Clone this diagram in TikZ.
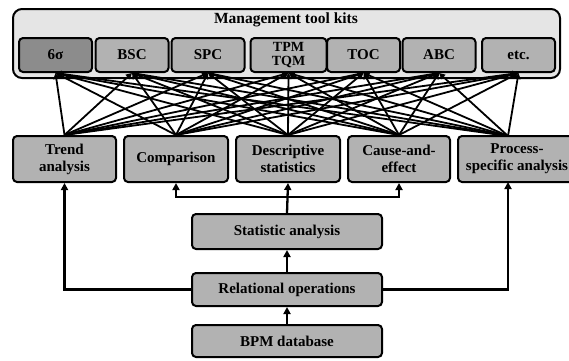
\documentclass[tikz,border=0pt]{standalone}
\usepackage{fontspec}
\setmainfont{Liberation Serif}
\usetikzlibrary{arrows.meta,calc}

\tikzset{
  box/.style={draw=black, line width=2pt, rounded corners=4pt, fill=boxgray,
    inner sep=0pt, align=center, font=\fontsize{15}{17}\selectfont\bfseries},
  toolbox/.style={box, minimum width=73pt, minimum height=34pt},
  anabox/.style={box, minimum height=46pt},
  basebox/.style={box, minimum width=190pt},
  conn/.style={line width=2.3pt, -{Triangle[length=7pt,width=7pt]}},
  mesh/.style={line width=1.8pt, -{Triangle[length=6pt,width=6pt]}}
}
\definecolor{boxgray}{gray}{0.70}
\definecolor{darkgray}{gray}{0.55}
\definecolor{panelgray}{gray}{0.90}

\begin{document}
\begin{tikzpicture}[x=1pt,y=-1pt]
\useasboundingbox (0,0) rectangle (569,360);

% tool kit panel
\draw[line width=2pt, rounded corners=9pt, fill=panelgray] (13,9) rectangle (560,78);
\node[font=\fontsize{15.5}{16}\selectfont\bfseries] (title) at (286,20) {Management tool kits};

% tools
\node[toolbox, fill=darkgray] (t1) at (55.5,55) {6σ};
\node[toolbox] (t2) at (132,55) {BSC};
\node[toolbox] (t3) at (208,55) {SPC};
\node[toolbox, minimum width=76pt, font=\fontsize{14}{14}\selectfont\bfseries] (t4) at (288.5,55) {TPM\\TQM};
\node[toolbox] (t5) at (363.5,55) {TOC};
\node[toolbox] (t6) at (439,55) {ABC};
\node[toolbox] (t7) at (518.5,55) {etc.};

% analyses
\node[anabox, minimum width=103pt] (a1) at (64.5,159) {Trend\\analysis};
\node[anabox, minimum width=104pt] (a2) at (176,159) {Comparison};
\node[anabox, minimum width=104pt] (a3) at (288,159) {Descriptive\\statistics};
\node[anabox, minimum width=102pt] (a4) at (399,159) {Cause-and-\\effect};
\node[anabox, minimum width=118pt] (a5) at (517,159) {Process-\\specific analysis};
\coordinate (a5top) at (508,136);
\coordinate (a5bot) at (508,182);

% base chain
\node[basebox, minimum height=35pt] (stat) at (287,231.5) {Statistic analysis};
\node[basebox, minimum height=33pt] (rel) at (287,289.5) {Relational operations};
\node[basebox, minimum height=32pt] (db) at (287,341) {BPM database};
\coordinate (branch) at (287,197);

% every analysis feeds every tool
\foreach \t in {t1,t2,t3,t4,t5,t6,t7}{
  \foreach \a in {a1,a2,a3,a4}{
    \draw[mesh] (\a.north) -- (\t.south);
  }
  \draw[mesh] (a5top) -- (\t.south);
}

% data flow
\draw[conn] (db.north) -- (rel.south);
\draw[conn] (rel.north) -- (stat.south);
\draw[conn] (stat.north) -- (a3.south);
\draw[conn] (branch) -| (a2.south);
\draw[conn] (branch) -| (a4.south);
\draw[conn] (rel.west) -| (a1.south);
\draw[conn] (rel.east) -| (a5bot);
\end{tikzpicture}
\end{document}
